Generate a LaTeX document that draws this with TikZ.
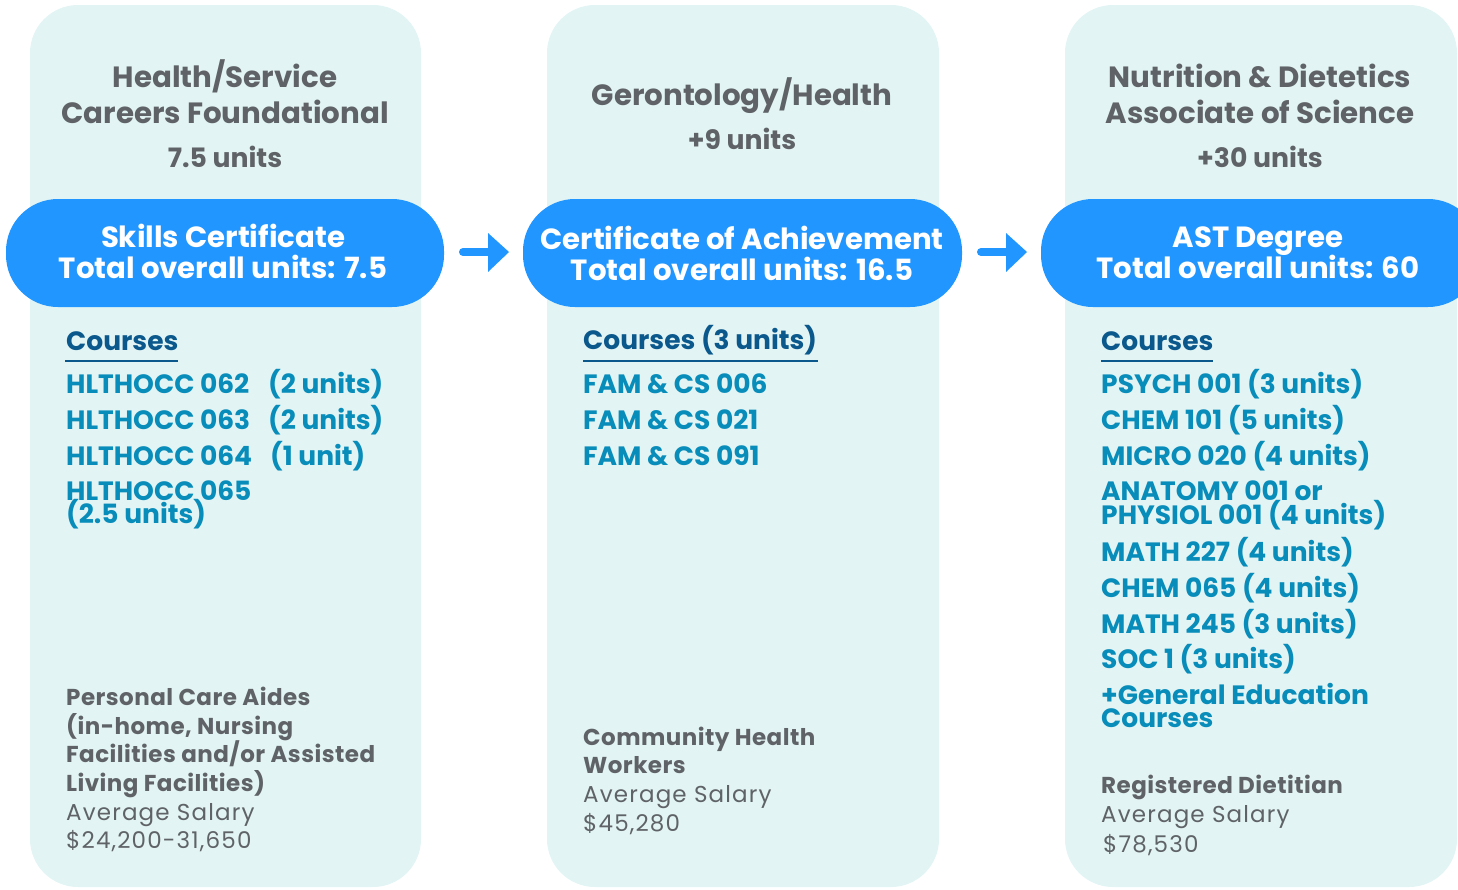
\documentclass[tikz,border=0pt]{standalone}
\usepackage{fontspec}
\setmainfont{Poppins}
\newfontfamily\salfont{Poppins}[LetterSpace=5]
\newfontfamily\jobfont{Poppins}[LetterSpace=2]
\definecolor{panelbg}{RGB}{226,244,244}
\definecolor{pillblue}{RGB}{34,150,255}
\definecolor{txtgray}{RGB}{95,99,104}
\definecolor{crsteal}{RGB}{8,140,186}
\definecolor{hdblue}{RGB}{10,88,140}
\tikzset{
  panel/.style={fill=panelbg, draw=none, rounded corners=48pt},
  pill/.style={fill=pillblue, draw=none, rounded corners=52pt},
  ttl/.style={anchor=base, text=txtgray, font=\fontsize{29.3}{34}\selectfont\bfseries, inner sep=0pt},
  unitsttl/.style={anchor=base, text=txtgray, font=\fontsize{26.7}{32}\selectfont\bfseries, inner sep=0pt},
  pilltxt/.style={anchor=base, text=white, font=\fontsize{29.2}{34}\selectfont\bfseries, inner sep=0pt},
  hd/.style={anchor=base west, text=hdblue, font=\fontsize{26.5}{30}\selectfont\bfseries, inner sep=0pt},
  crs/.style={anchor=base west, text=crsteal, font=\fontsize{26.5}{30}\selectfont\bfseries, inner sep=0pt},
  job/.style={anchor=base west, text=txtgray, font=\jobfont\fontsize{23}{28}\selectfont\bfseries, inner sep=0pt},
  sal/.style={anchor=base west, text=txtgray, font=\salfont\fontsize{23}{28}\selectfont, inner sep=0pt},
  uline/.style={draw=hdblue, line width=2.5pt},
  arr/.style={draw=pillblue, line width=8pt, line cap=round},
  arrhead/.style={fill=pillblue, draw=none}
}
\begin{document}
\begin{tikzpicture}[x=1pt,y=-1pt]
\path[use as bounding box] (0,0) rectangle (1458,889);
\clip (0,0) rectangle (1458,889);
% panels
\fill[panel] (30,5) rectangle (421,887);
\fill[panel] (547,5) rectangle (939,887);
\fill[panel] (1065,5) rectangle (1457,887);
% pills
\fill[pill] (6,199) rectangle (444,307);
\fill[pill] (523,199) rectangle (962,307);
\fill[pill] (1041,199) rectangle (1480,307);
% arrows
\coordinate (a1s) at (463,252);
\coordinate (a1e) at (490,252);
\draw[arr] (a1s) -- (a1e);
\fill[arrhead] (488,233) -- (509,252) -- (488,272) -- cycle;
\coordinate (a2s) at (981,252);
\coordinate (a2e) at (1008,252);
\draw[arr] (a2s) -- (a2e);
\fill[arrhead] (1006,233) -- (1027,252) -- (1006,272) -- cycle;

% Panel 1
\node[ttl] (t1a) at (225,87) {Health/Service};
\node[ttl] (t1b) at (225,123) {Careers Foundational};
\node[unitsttl] (t1c) at (225,167) {7.5 units};
\node[pilltxt] (p1a) at (223,247) {Skills Certificate};
\node[pilltxt] (p1b) at (223,278) {Total overall units: 7.5};
\node[hd] (h1) at (66,350) {Courses};
\draw[uline] (65,361) -- (178,361);
\node[crs] (c1a) at (66,393) {HLTHOCC 062};
\node[crs] (c1au) at (268,393) {(2 units)};
\node[crs] (c1b) at (66,429) {HLTHOCC 063};
\node[crs] (c1bu) at (268,429) {(2 units)};
\node[crs] (c1c) at (66,465) {HLTHOCC 064};
\node[crs] (c1cu) at (270,465) {(1 unit)};
\node[crs] (c1d) at (66,500) {HLTHOCC 065};
\node[crs] (c1du) at (66,523) {(2.5 units)};
\node[job] (j1a) at (66,705) {Personal Care Aides};
\node[job] (j1b) at (66,734) {(in-home, Nursing};
\node[job] (j1c) at (66,762) {Facilities and/or Assisted};
\node[job] (j1d) at (66,791) {Living Facilities)};
\node[sal] (s1a) at (66,820) {Average Salary};
\node[sal] (s1b) at (66,848) {\$24,200-31,650};

% Panel 2
\node[ttl] (t2a) at (742,105) {Gerontology/Health};
\node[unitsttl] (t2b) at (742,149) {+9 units};
\node[pilltxt] (p2a) at (742,249) {Certificate of Achievement};
\node[pilltxt] (p2b) at (742,280) {Total overall units: 16.5};
\node[hd] (h2) at (583,349) {Courses (3 units)};
\draw[uline] (583,361) -- (818,361);
\node[crs] (c2a) at (583,393) {FAM \& CS 006};
\node[crs] (c2b) at (583,429) {FAM \& CS 021};
\node[crs] (c2c) at (583,465) {FAM \& CS 091};
\node[job] (j2a) at (583,745) {Community Health};
\node[job] (j2b) at (583,773) {Workers};
\node[sal] (s2a) at (583,802) {Average Salary};
\node[sal] (s2b) at (583,831) {\$45,280};

% Panel 3
\node[ttl] (t3a) at (1260,87) {Nutrition \& Dietetics};
\node[ttl] (t3b) at (1260,123) {Associate of Science};
\node[unitsttl] (t3c) at (1260,167) {+30 units};
\node[pilltxt] (p3a) at (1258,247) {AST Degree};
\node[pilltxt] (p3b) at (1258,278) {Total overall units: 60};
\node[hd] (h3) at (1101,350) {Courses};
\draw[uline] (1101,361) -- (1213,361);
\node[crs] (c3a) at (1101,393) {PSYCH 001 (3 units)};
\node[crs] (c3b) at (1101,429) {CHEM 101 (5 units)};
\node[crs] (c3c) at (1101,465) {MICRO 020 (4 units)};
\node[crs] (c3d) at (1101,500) {ANATOMY 001 or};
\node[crs] (c3e) at (1101,524) {PHYSIOL 001 (4 units)};
\node[crs] (c3f) at (1101,561) {MATH 227 (4 units)};
\node[crs] (c3g) at (1101,597) {CHEM 065 (4 units)};
\node[crs] (c3h) at (1101,633) {MATH 245 (3 units)};
\node[crs] (c3i) at (1101,668) {SOC 1 (3 units)};
\node[crs] (c3j) at (1101,704) {+General Education};
\node[crs] (c3k) at (1101,727) {Courses};
\node[job] (j3a) at (1101,793) {Registered Dietitian};
\node[sal] (s3a) at (1101,822) {Average Salary};
\node[sal] (s3b) at (1103,852) {\$78,530};
\end{tikzpicture}
\end{document}
